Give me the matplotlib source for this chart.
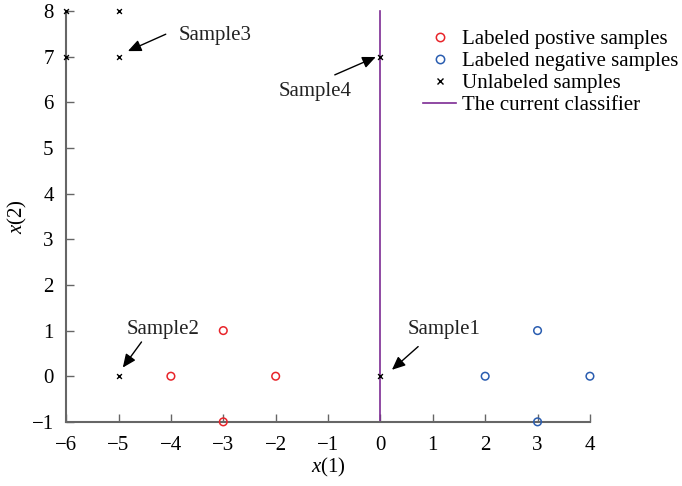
import matplotlib
matplotlib.use("Agg")
import matplotlib.pyplot as plt
from matplotlib.lines import Line2D

plt.rcParams["font.family"] = ["Liberation Serif", "DejaVu Serif"]
plt.rcParams["mathtext.fontset"] = "custom"
plt.rcParams["mathtext.it"] = "Liberation Serif:italic"
plt.rcParams["mathtext.rm"] = "Liberation Serif"

# data
pos_x = [-4, -3, -2, -3]
pos_y = [0, 1, 0, -1]
neg_x = [2, 3, 4, 3]
neg_y = [0, 1, 0, -1]
unl_x = [-6, -5, -6, -5, -5, 0, 0]
unl_y = [8, 8, 7, 7, 0, 0, 7]
clf_x = [0, 0]
clf_y = [-1, 8]

# name, point, text position, arrow tail
samples = [
    ("Sample1", (0.18, 0.1), (0.52, 1.02), (0.76, 0.69)),
    ("Sample2", (-4.95, 0.14), (-4.85, 1.02), (-4.53, 0.8)),
    ("Sample3", (-4.87, 7.1), (-3.86, 7.47), (-4.05, 7.52)),
    ("Sample4", (-0.04, 7.02), (-1.95, 6.23), (-0.92, 6.58)),
]

fig = plt.figure(figsize=(6.82, 4.86), dpi=100)
ax = fig.add_axes([0.097, 0.132, 0.768, 0.845])

red = "#e8242a"
blue = "#2a5db0"
purple = "#7d2b93"
gray = "#666666"
fs = 15

ax.plot(clf_x, clf_y, color=purple, lw=1.2, clip_on=False)
ax.scatter(pos_x, pos_y, s=30, facecolors="none", edgecolors=red, linewidths=1.1, clip_on=False, zorder=3)
ax.scatter(neg_x, neg_y, s=30, facecolors="none", edgecolors=blue, linewidths=1.1, clip_on=False, zorder=3)
ax.scatter(unl_x, unl_y, s=12, marker="x", color="k", linewidths=1.0, clip_on=False, zorder=4)

for name, xy, txt, tail in samples:
    ax.annotate("", xy=xy, xytext=tail,
                arrowprops=dict(arrowstyle="-|>,head_length=0.5,head_width=0.22",
                                color="k", lw=1.0, mutation_scale=16))
    ax.text(txt[0], txt[1], name, fontsize=fs, va="center", ha="left", color="#222222")

ax.set_xlim(-6, 4)
ax.set_ylim(-1, 8)
ax.set_xticks(range(-6, 5))
ax.set_yticks(range(-1, 9))
ax.set_xticklabels(["\u22126", "\u22125", "\u22124", "\u22123", "\u22122", "\u22121", "0", "1", "2", "3", "4"])
ax.set_yticklabels(["\u22121"] + [str(i) for i in range(0, 9)])
ax.tick_params(direction="in", length=6, width=1.0, color=gray, labelsize=fs)
ax.tick_params(axis="x", pad=10)
ax.tick_params(axis="y", pad=9)
for s in ["top", "right"]:
    ax.spines[s].set_visible(False)
for s in ["left", "bottom"]:
    ax.spines[s].set_color(gray)
    ax.spines[s].set_linewidth(1.5)

ax.set_xlabel("$x$(1)", fontsize=fs, labelpad=1)
ax.set_ylabel("$x$(2)", fontsize=fs, labelpad=2)

handles = [
    Line2D([], [], ls="none", marker="o", mfc="none", mec=red, ms=6, mew=1.1),
    Line2D([], [], ls="none", marker="o", mfc="none", mec=blue, ms=6, mew=1.1),
    Line2D([], [], ls="none", marker="x", color="k", ms=4, mew=1.0),
    Line2D([], [], color=purple, lw=1.2),
]
labels = ["Labeled postive samples", "Labeled negative samples", "Unlabeled samples", "The current classifier"]
ax.legend(handles, labels, loc="upper left", bbox_to_anchor=(0.681, 0.955), frameon=False,
          fontsize=fs, handlelength=1.6, handletextpad=0.3, labelspacing=0.12,
          borderaxespad=0, borderpad=0)

fig.savefig("out.png", dpi=100)
